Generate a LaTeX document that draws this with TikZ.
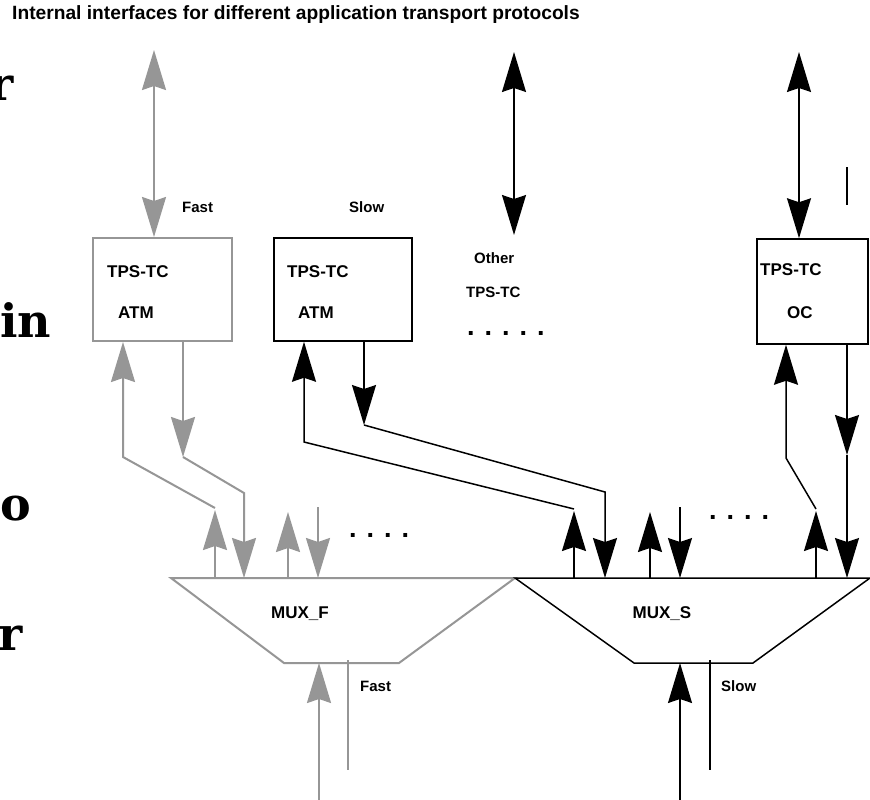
\documentclass[tikz,border=0pt]{standalone}
\usepackage{fontspec}
\setmainfont{Liberation Sans}
\newfontfamily\bigserif{DejaVu Serif}
\usetikzlibrary{arrows.meta}
\definecolor{fgray}{RGB}{150,150,150}
\begin{document}
\begin{tikzpicture}[x=1pt,y=-1pt,
  >={Stealth[length=40pt,width=24pt,inset=4pt]},
  gline/.style={draw=fgray,line width=2pt},
  bline/.style={draw=black,line width=1.5pt},
  gbox/.style={gline,rectangle,inner sep=0pt},
  bbox/.style={bline,rectangle,inner sep=0pt},
  lbl/.style={font=\bfseries\fontsize{17}{17}\selectfont,inner sep=0pt,anchor=base west},
  slbl/.style={font=\bfseries\fontsize{15}{15}\selectfont,inner sep=0pt,anchor=base west},
  dots/.style={font=\bfseries\fontsize{27}{27}\selectfont,inner sep=0pt,anchor=base west},
  bigl/.style={font=\bigserif\bfseries\fontsize{46}{46}\selectfont,inner sep=0pt,anchor=base west}]
\useasboundingbox (0,0) rectangle (870,800);
\fill[white] (0,0) rectangle (870,800);
% left clipped letters
\begin{scope}
\clip (0,0) rectangle (870,800);
\node[bigl] (L1) at (-11,100) {r};
\node[bigl] (L2) at (0,337) {in};
\node[bigl] (L3) at (0,520) {o};
\node[bigl] (L4) at (-2,650) {r};
\end{scope}
% title
\node[font=\bfseries\fontsize{19.2}{19.2}\selectfont,inner sep=0pt,anchor=base west] (title) at (12,20) {Internal interfaces for different application transport protocols};
% boxes
\node[gbox,minimum width=139pt,minimum height=103pt] (b1) at (162.5,289.5) {};
\node[bbox,minimum width=138pt,minimum height=103pt] (b2) at (343,289.5) {};
\node[bbox,minimum width=111pt,minimum height=105pt] (b4) at (812.5,291.5) {};
\node[lbl] (b1t) at (107,277) {TPS-TC};
\node[lbl] (b1a) at (118,318) {ATM};
\node[lbl] (b2t) at (287,277) {TPS-TC};
\node[lbl] (b2a) at (298,318) {ATM};
\node[lbl] (b4t) at (760,275) {TPS-TC};
\node[lbl] (b4a) at (787,318) {OC};
\node[slbl] (oth) at (474,263) {Other};
\node[slbl] (otht) at (466,297) {TPS-TC};
\node[dots] (d1) at (467,335) {. . . . .};
\node[slbl] (fast1) at (182,212) {Fast};
\node[slbl] (slow1) at (349,212) {Slow};
% top arrows
\coordinate (t1) at (154,50);
\coordinate (t2) at (514,52);
\coordinate (t2b) at (514,235);
\coordinate (t3) at (799,52);
\coordinate (s1) at (847,167);
\coordinate (s2) at (847,205);
\draw[gline,<->] (t1) -- (t1 |- b1.north);
\draw[bline,<->] (t2) -- (t2b);
\draw[bline,<->] (t3) -- (t3 |- b4.north);
\draw[bline] (s1) -- (s2);
% mux shapes
\coordinate (mf1) at (171,578); \coordinate (mf2) at (515,578);
\coordinate (mf3) at (399,663); \coordinate (mf4) at (284,663);
\coordinate (ms1) at (515,578); \coordinate (ms2) at (870,578);
\coordinate (ms3) at (753,663); \coordinate (ms4) at (634,663);
\draw[gline] (mf1) -- (mf2) -- (mf3) -- (mf4) -- cycle;
\draw[bline] (ms1) -- (ms2) -- (ms3) -- (ms4) -- cycle;
\node[font=\bfseries\fontsize{17}{17}\selectfont,inner sep=0pt] (muxf) at (300,614) {MUX\_F};
\node[font=\bfseries\fontsize{17}{17}\selectfont,inner sep=0pt] (muxs) at (662,614) {MUX\_S};
% gray connectors between box 1 and MUX_F
\coordinate (g1a) at (123,457); \coordinate (g1b) at (215,508); \coordinate (g1c) at (215,510);
\draw[gline,->] (g1b) -- (g1a) -- (g1a |- b1.south);
\draw[gline,->] (g1c |- mf1) -- (g1c);
\coordinate (g2a) at (183,457); \coordinate (g2b) at (244,493);
\draw[gline,->] (g2a |- b1.south) -- (g2a);
\draw[gline,->] (g2a) -- (g2b) -- (g2b |- mf1);
\coordinate (g3) at (288,512); \coordinate (g4) at (318,507);
\draw[gline,->] (g3 |- mf1) -- (g3);
\draw[gline,->] (g4) -- (g4 |- mf1);
\node[dots] (d2) at (349,537) {. . . .};
% black connectors between box 2 and MUX_S
\coordinate (k1a) at (304,442); \coordinate (k1b) at (574,509); \coordinate (k1c) at (574,511);
\draw[bline,->] (k1b) -- (k1a) -- (k1a |- b2.south);
\draw[bline,->] (k1c |- ms1) -- (k1c);
\coordinate (k2a) at (364,425); \coordinate (k2b) at (605,492);
\draw[bline,->] (k2a |- b2.south) -- (k2a);
\draw[bline,->] (k2a) -- (k2b) -- (k2b |- ms1);
\coordinate (k3) at (650,512); \coordinate (k4) at (680,507);
\draw[bline,->] (k3 |- ms1) -- (k3);
\draw[bline,->] (k4) -- (k4 |- ms1);
\node[dots] (d3) at (709,519) {. . . .};
% black connectors for OC box
\coordinate (k5a) at (786,458); \coordinate (k5b) at (816,509); \coordinate (k5c) at (816,511);
\draw[bline,->] (k5b) -- (k5a) -- (k5a |- b4.south);
\draw[bline,->] (k5c |- ms1) -- (k5c);
\coordinate (k6a) at (847,455);
\draw[bline,->] (k6a |- b4.south) -- (k6a);
\draw[bline,->] (k6a) -- (k6a |- ms1);
% bottom
\coordinate (f1) at (319,800); \coordinate (f2) at (348,660); \coordinate (f3) at (348,770);
\draw[gline,->] (f1) -- (f1 |- mf4);
\draw[gline] (f2) -- (f3);
\node[slbl] (fast2) at (360,691) {Fast};
\coordinate (s3) at (680,800); \coordinate (s4) at (710,660); \coordinate (s5) at (710,770);
\draw[bline,->] (s3) -- (s3 |- ms4);
\draw[bline] (s4) -- (s5);
\node[slbl] (slow2) at (721,691) {Slow};
\end{tikzpicture}
\end{document}
